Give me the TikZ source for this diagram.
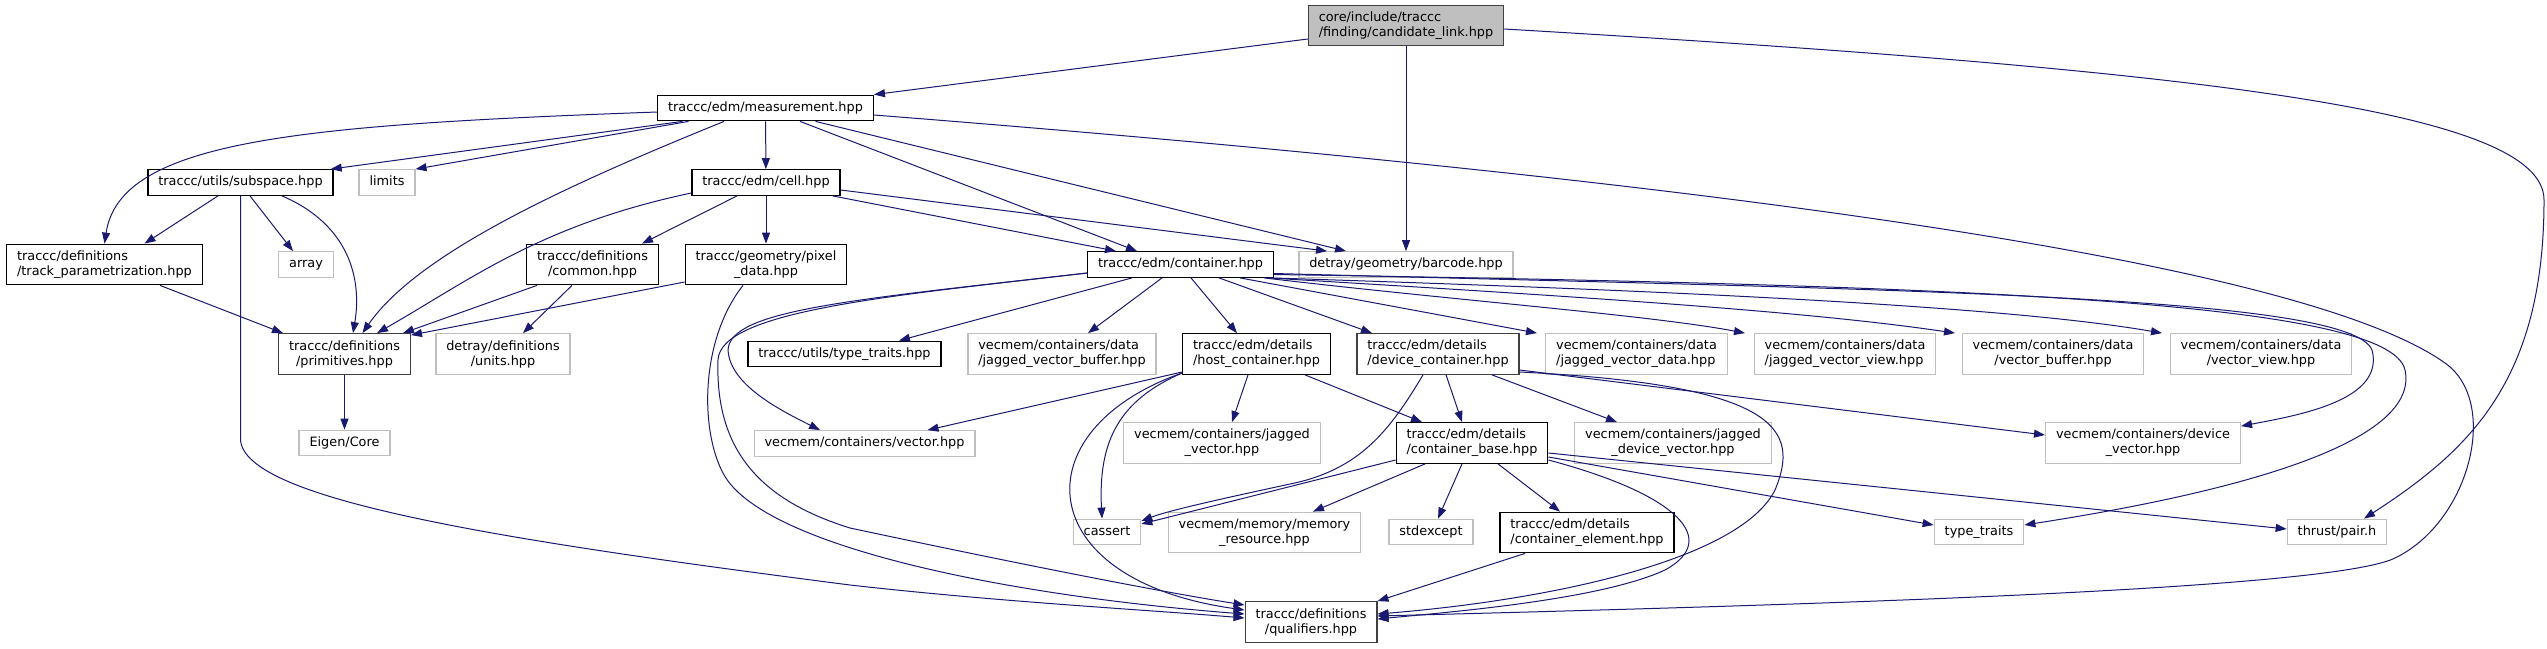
\documentclass[tikz,border=0pt]{standalone}
\usepackage{fontspec}
\setmainfont{DejaVu Sans}
\usetikzlibrary{arrows.meta}
\definecolor{cedge}{HTML}{191970}
\definecolor{cext}{HTML}{BFBFBF}
\definecolor{croot}{HTML}{BFBFBF}
\definecolor{cdark}{HTML}{404040}

\begin{document}
\begin{tikzpicture}[
  x=1pt, y=-1pt,
  font=\fontsize{12.85}{15}\selectfont,
  hdr/.style={draw=black, fill=white, line width=1.3pt, inner xsep=10.4pt, inner ysep=0pt,
              minimum height=25.5pt, text height=9.6pt, text depth=2.9pt},
  sys/.style={hdr, draw=cext},
  root/.style={hdr, draw=cdark, fill=croot},
  two/.style={text height={}, text depth={}, minimum height=40.5pt, align=center},
  twol/.style={two, align=left},
  dep/.style={draw=cedge, line width=1pt, -{Triangle[length=11pt,width=8pt]}}
]
\useasboundingbox (0,0) rectangle (2547,648);

\node[root,twol] (link)   at (1406,25.5)  {core/include/traccc\\/finding/candidate\_link.hpp};
\node[hdr]       (meas)   at (765.5,108)  {traccc/edm/measurement.hpp};
\node[hdr]       (subsp)  at (240.5,182.5){traccc/utils/subspace.hpp};
\node[sys]       (limits) at (387,182.5)  {limits};
\node[hdr]       (cell)   at (766,182.5)  {traccc/edm/cell.hpp};
\node[hdr,twol]  (tpar)   at (104.5,264.5){traccc/definitions\\/track\_parametrization.hpp};
\node[sys]       (array)  at (306,264.5)  {array};
\node[hdr,two]   (common) at (592.5,264.5){traccc/definitions\\/common.hpp};
\node[hdr,two]   (pixel)  at (766,264.5)  {traccc/geometry/pixel\\\_data.hpp};
\node[hdr]       (cont)   at (1180.5,264.5){traccc/edm/container.hpp};
\node[sys]       (barcode) at (1406,264.5){detray/geometry/barcode.hpp};
\node[hdr,two,draw=cdark] (prim) at (344.5,354) {traccc/definitions\\/primitives.hpp};
\node[sys,two]   (units)  at (503,354)    {detray/definitions\\/units.hpp};
\node[hdr]       (utraits) at (844.5,354) {traccc/utils/type\_traits.hpp};
\node[sys,twol]  (jvbuf)  at (1062,354)   {vecmem/containers/data\\/jagged\_vector\_buffer.hpp};
\node[hdr,twol]  (host)   at (1256.5,354) {traccc/edm/details\\/host\_container.hpp};
\node[hdr,twol,draw=cdark] (dev) at (1438,354) {traccc/edm/details\\/device\_container.hpp};
\node[sys,twol]  (jvdata) at (1636.5,354) {vecmem/containers/data\\/jagged\_vector\_data.hpp};
\node[sys,twol]  (jvview) at (1845,354)   {vecmem/containers/data\\/jagged\_vector\_view.hpp};
\node[sys,two]   (vbuf)   at (2053,354)   {vecmem/containers/data\\/vector\_buffer.hpp};
\node[sys,two]   (vview)  at (2261,354)   {vecmem/containers/data\\/vector\_view.hpp};
\node[sys]       (eigen)  at (344.5,443)  {Eigen/Core};
\node[sys]       (vec)    at (864.5,443.5){vecmem/containers/vector.hpp};
\node[sys,two]   (jvec)   at (1222,443)   {vecmem/containers/jagged\\\_vector.hpp};
\node[hdr,twol]  (base)   at (1472,443)   {traccc/edm/details\\/container\_base.hpp};
\node[sys,two]   (jdvec)  at (1673,443)   {vecmem/containers/jagged\\\_device\_vector.hpp};
\node[sys,two]   (dvec)   at (2143,443)   {vecmem/containers/device\\\_vector.hpp};
\node[sys]       (cassert) at (1107,532)  {cassert};
\node[sys,two]   (memres) at (1264.5,532.5){vecmem/memory/memory\\\_resource.hpp};
\node[sys]       (stdexc) at (1431,532)   {stdexcept};
\node[hdr,twol]  (elem)   at (1587,532.5) {traccc/edm/details\\/container\_element.hpp};
\node[sys]       (traits) at (1979,532)   {type\_traits};
\node[sys]       (pair)   at (2337,532)   {thrust/pair.h};
\node[hdr,two,draw=cdark] (qual) at (1311,622) {traccc/definitions\\/qualifiers.hpp};

\draw[dep] ([yshift=-13.5pt]link.west) -- (meas.north east);
\draw[dep] (link) -- (barcode);
\draw[dep] ([yshift=-3.5pt]link.east) .. controls (2200,70) and (2544,110) .. (2544,200)
           .. controls (2544,380) and (2470,450) .. ([xshift=27pt]pair.north);

\draw[dep] ([yshift=-4pt]meas.west) .. controls (300,125) and (120,140) .. (tpar.north);
\draw[dep] ([xshift=-83pt]meas.south) -- ([xshift=-3pt]subsp.north east);
\draw[dep] ([xshift=-77pt]meas.south) -- (limits.north east);
\draw[dep] ([xshift=-41.5pt]meas.south) .. controls (580,180) and (420,250) .. ([xshift=18pt]prim.north);
\draw[dep] (meas) -- (cell);
\draw[dep] ([xshift=34.5pt]meas.south) -- ([xshift=-43.5pt]cont.north);
\draw[dep] ([xshift=50pt]meas.south) -- ([xshift=-60pt]barcode.north);
\draw[dep] ([yshift=-7pt]meas.east) .. controls (1700,180) and (2300,260) .. (2445,363)
           .. controls (2500,402) and (2470,520) .. (2397,557)
           .. controls (2340,590) and (1800,605) .. ([yshift=6pt]qual.east);

\draw[dep] ([xshift=-22.5pt]subsp.south) -- ([xshift=40pt]tpar.north);
\draw[dep] ([xshift=9.5pt]subsp.south) -- ([xshift=-13pt]array.north);
\draw[dep] ([xshift=41.5pt]subsp.south) .. controls (350,225) and (362,280) .. ([xshift=8.5pt]prim.north);
\draw[dep] (subsp.south) -- (240.5,440) .. controls (245,500) and (500,540) .. (850,585)
           .. controls (1000,602) and (1150,610) .. ([yshift=4pt]qual.west);

\draw[dep] ([xshift=55.5pt]tpar.south) -- ([xshift=-61.5pt]prim.north);

\draw[dep] ([yshift=-10.5pt]cell.west) .. controls (540,225) and (470,280) .. ([xshift=32.5pt]prim.north);
\draw[dep] ([xshift=-29pt]cell.south) -- ([xshift=49.5pt]common.north);
\draw[dep] (cell) -- (pixel);
\draw[dep] ([xshift=-8pt]cell.south east) -- ([xshift=-64.5pt]cont.north);
\draw[dep] ([yshift=-7.5pt]cell.east) -- ([xshift=-79pt]barcode.north);

\draw[dep] ([xshift=-55.5pt]common.south) -- ([xshift=58.5pt]prim.north);
\draw[dep] ([xshift=-20.5pt]common.south) -- ([xshift=20pt]units.north);

\draw[dep] ([yshift=-17.5pt]pixel.west) -- ([yshift=-2pt]prim.north east);
\draw[dep] ([xshift=-23pt]pixel.south) .. controls (700,340) and (700,430) .. (723,473)
           .. controls (760,545) and (1000,595) .. ([yshift=8pt]qual.west);

\draw[dep] (prim) -- (eigen);

\draw[dep] ([yshift=-8.5pt]cont.west) .. controls (900,295) and (720,310) .. (718,360)
           .. controls (715,450) and (760,500) .. (850,528)
           .. controls (1000,560) and (1150,590) .. ([yshift=17pt]qual.west);
\draw[dep] ([yshift=-8.5pt]cont.west) .. controls (850,300) and (730,310) .. (728,350)
           .. controls (730,385) and (780,410) .. ([xshift=-44.5pt]vec.north);
\draw[dep] ([xshift=-48.5pt]cont.south) -- ([xshift=54.5pt]utraits.north);
\draw[dep] ([xshift=-18.5pt]cont.south) -- ([xshift=26pt]jvbuf.north);
\draw[dep] ([xshift=10.5pt]cont.south) -- ([xshift=-19.5pt]host.north);
\draw[dep] ([xshift=38.5pt]cont.south) -- ([xshift=-66pt]dev.north);
\draw[dep] ([xshift=59.5pt]cont.south) -- ([xshift=-99.5pt]jvdata.north);
\draw[dep] ([xshift=-10pt]cont.south east) .. controls (1450,300) and (1650,315) .. ([xshift=-100pt]jvview.north);
\draw[dep] ([xshift=-6pt]cont.south east) .. controls (1550,295) and (1800,310) .. ([xshift=-98pt]vbuf.north);
\draw[dep] ([xshift=-3pt]cont.south east) .. controls (1650,290) and (2000,305) .. ([xshift=-99pt]vview.north);
\draw[dep] ([yshift=-9pt]cont.east) .. controls (1900,290) and (2350,295) .. (2372,350)
           .. controls (2385,400) and (2300,415) .. ([yshift=-4pt]dvec.north east);
\draw[dep] ([yshift=-10pt]cont.east) .. controls (1950,285) and (2390,300) .. (2405,370)
           .. controls (2420,440) and (2250,490) .. ([yshift=7pt]traits.east);

\draw[dep] ([yshift=-18pt]host.west) -- ([xshift=63pt]vec.north);
\draw[dep] ([yshift=-19pt]host.west) .. controls (1120,400) and (1098,440) .. ([xshift=-5pt]cassert.north);
\draw[dep] ([yshift=-19pt]host.west) .. controls (1020,430) and (1030,580) .. ([yshift=12pt]qual.west);
\draw[dep] ([xshift=-8.5pt]host.south) -- ([xshift=10pt]jvec.north);
\draw[dep] ([xshift=48.5pt]host.south) -- ([xshift=-50pt]base.north);

\draw[dep] ([xshift=8pt]dev.south) -- ([xshift=-10pt]base.north);
\draw[dep] ([xshift=54pt]dev.south) -- ([xshift=-56pt]jdvec.north);
\draw[dep] ([xshift=-15pt]dev.south) .. controls (1390,430) and (1360,470) .. (1290,484)
           .. controls (1230,497) and (1170,510) .. ([yshift=11pt]cassert.east);
\draw[dep] ([yshift=-16pt]dev.east) -- ([yshift=8pt]dvec.west);
\draw[dep] ([yshift=-18pt]dev.east) .. controls (1780,385) and (1800,430) .. (1775,490)
           .. controls (1740,560) and (1550,600) .. ([yshift=8pt]qual.east);

\draw[dep] ([yshift=-17pt]base.west) -- ([yshift=8pt]cassert.east);
\draw[dep] ([xshift=-47pt]base.south) -- ([xshift=48.5pt]memres.north);
\draw[dep] ([xshift=-10pt]base.south) -- ([xshift=7pt]stdexc.north);
\draw[dep] ([xshift=26pt]base.south) -- ([xshift=-27pt]elem.north);
\draw[dep] ([yshift=-17pt]base.east) .. controls (1680,495) and (1720,540) .. (1665,570)
           .. controls (1600,600) and (1450,612) .. ([yshift=3pt]qual.east);
\draw[dep] ([yshift=-14pt]base.east) -- ([yshift=7pt]traits.west);
\draw[dep] ([yshift=-10pt]base.east) -- ([yshift=3pt]pair.west);

\draw[dep] ([xshift=-62pt]elem.south) -- (qual.north east);
\end{tikzpicture}
\end{document}
